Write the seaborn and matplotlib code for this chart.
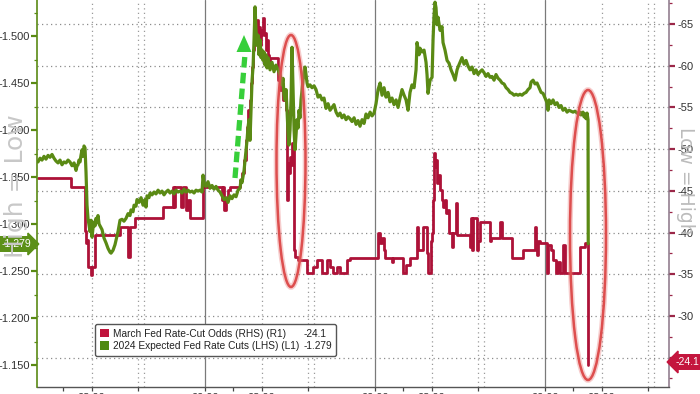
import matplotlib
matplotlib.use("Agg")
import matplotlib.pyplot as plt
import seaborn as sns
from matplotlib.patches import Patch, Ellipse, Polygon
from matplotlib.lines import Line2D
from matplotlib.ticker import FixedLocator, FormatStrFormatter

# ---------------- data ----------------
green_name = "2024 Expected Fed Rate Cuts (LHS) (L1)"
red_name = "March Fed Rate-Cut Odds (RHS) (R1)"

# hours since 00:00 of the first day
green_t = [
    0.42, 0.71, 0.99, 1.27, 1.55, 1.84, 2.12, 2.40, 2.68, 2.96,
    3.25, 3.53, 3.81, 4.09, 4.38, 4.66, 4.94, 5.22, 5.51, 5.79,
    5.93, 6.07, 6.21, 6.35, 6.49, 6.64, 6.78, 6.92, 7.06, 7.20,
    7.34, 7.48, 7.62, 7.76, 7.91, 8.05, 8.19, 8.33, 8.47, 8.61,
    8.75, 8.89, 9.04, 9.18, 9.46, 9.74, 10.02, 10.31, 10.59, 10.73,
    11.01, 11.29, 11.44, 11.72, 11.86, 12.00, 12.28, 12.56, 12.85, 13.13,
    13.41, 13.55, 13.84, 13.98, 14.26, 14.40, 14.68, 14.97, 15.25, 15.53,
    15.67, 15.81, 16.09, 16.24, 16.52, 16.80, 17.08, 17.37, 17.65, 17.93,
    18.21, 18.49, 18.78, 19.06, 19.34, 19.62, 19.91, 20.19, 20.47, 20.75,
    21.04, 21.32, 21.60, 21.88, 22.17, 22.45, 22.73, 23.01, 23.29, 23.58,
    23.72, 23.86, 24.14, 24.42, 24.71, 24.99, 25.27, 25.55, 25.84, 26.12,
    26.40, 26.68, 26.97, 27.25, 27.53, 27.81, 28.09, 28.38, 28.66, 28.94,
    29.08, 29.22, 29.51, 29.65, 29.79, 29.93, 30.07, 30.21, 30.35, 30.50,
    30.64, 30.78, 30.92, 31.06, 31.20, 31.34, 31.48, 31.62, 31.77, 31.91,
    32.05, 32.19, 32.33, 32.47, 32.61, 32.75, 32.89, 33.18, 33.46, 33.74,
    34.02, 34.31, 34.59, 34.73, 34.87, 35.01, 35.15, 35.30, 35.44, 35.58,
    35.72, 35.86, 36.00, 36.14, 36.28, 36.43, 36.57, 36.71, 36.85, 36.99,
    37.13, 37.27, 37.41, 37.55, 37.70, 37.84, 37.98, 38.12, 38.26, 38.40,
    38.54, 38.82, 39.11, 39.39, 39.67, 39.95, 40.24, 40.52, 40.80, 41.08,
    41.37, 41.65, 41.93, 42.21, 42.50, 42.78, 43.06, 43.34, 43.62, 43.91,
    44.19, 44.47, 44.75, 45.04, 45.32, 45.60, 45.88, 46.17, 46.45, 46.73,
    47.01, 47.30, 47.58, 47.86, 48.14, 48.43, 48.71, 48.99, 49.27, 49.55,
    49.84, 50.12, 50.40, 50.68, 50.97, 51.25, 51.53, 51.81, 52.10, 52.38,
    52.66, 52.94, 53.22, 53.51, 53.79, 53.93, 54.21, 54.35, 54.64, 54.92,
    55.20, 55.34, 55.48, 55.77, 56.05, 56.19, 56.33, 56.47, 56.61, 56.75,
    56.89, 57.18, 57.46, 57.60, 57.88, 58.17, 58.45, 58.73, 59.01, 59.30,
    59.58, 59.72, 60.00, 60.28, 60.57, 60.85, 61.13, 61.41, 61.70, 61.98,
    62.26, 62.54, 62.83, 63.11, 63.39, 63.67, 63.95, 64.24, 64.52, 64.80,
    65.08, 65.37, 65.65, 65.93, 66.21, 66.50, 66.78, 67.06, 67.34, 67.63,
    67.91, 68.19, 68.47, 68.75, 69.04, 69.32, 69.60, 69.88, 70.03, 70.31,
    70.59, 70.87, 71.15, 71.44, 71.72, 72.00, 72.28, 72.42, 72.57, 72.85,
    73.13, 73.41, 73.70, 73.98, 74.26, 74.54, 74.83, 75.11, 75.39, 75.67,
    75.95, 76.24, 76.52, 76.80, 76.94, 77.08, 77.36, 77.51, 77.65, 77.79,
    77.93, 78.07, 78.10,
]
green_v = [
    -1.366, -1.370, -1.368, -1.372, -1.369, -1.373, -1.371, -1.374, -1.370, -1.367,
    -1.365, -1.368, -1.363, -1.366, -1.365, -1.368, -1.366, -1.362, -1.365, -1.357,
    -1.362, -1.363, -1.368, -1.366, -1.373, -1.379, -1.372, -1.383, -1.381, -1.355,
    -1.320, -1.306, -1.299, -1.292, -1.304, -1.286, -1.296, -1.302, -1.298, -1.306,
    -1.302, -1.309, -1.300, -1.298, -1.294, -1.285, -1.280, -1.274, -1.270, -1.269,
    -1.272, -1.278, -1.283, -1.292, -1.298, -1.304, -1.305, -1.303, -1.306, -1.311,
    -1.309, -1.315, -1.313, -1.320, -1.319, -1.326, -1.323, -1.328, -1.320, -1.326,
    -1.318, -1.330, -1.328, -1.333, -1.331, -1.334, -1.332, -1.336, -1.333, -1.335,
    -1.331, -1.334, -1.336, -1.333, -1.335, -1.332, -1.336, -1.334, -1.335, -1.333,
    -1.337, -1.334, -1.336, -1.334, -1.335, -1.333, -1.336, -1.335, -1.336, -1.334,
    -1.352, -1.344, -1.340, -1.345, -1.338, -1.341, -1.337, -1.340, -1.336, -1.334,
    -1.330, -1.326, -1.328, -1.323, -1.330, -1.327, -1.331, -1.329, -1.336, -1.338,
    -1.347, -1.344, -1.357, -1.368, -1.379, -1.389, -1.403, -1.411, -1.389, -1.421,
    -1.453, -1.467, -1.496, -1.531, -1.506, -1.490, -1.501, -1.480, -1.496, -1.477,
    -1.485, -1.474, -1.483, -1.469, -1.480, -1.466, -1.477, -1.464, -1.472, -1.462,
    -1.469, -1.464, -1.459, -1.453, -1.448, -1.455, -1.437, -1.432, -1.443, -1.421,
    -1.397, -1.384, -1.400, -1.432, -1.488, -1.443, -1.400, -1.379, -1.395, -1.411,
    -1.402, -1.421, -1.413, -1.432, -1.443, -1.453, -1.462, -1.467, -1.459, -1.450,
    -1.446, -1.448, -1.445, -1.447, -1.443, -1.435, -1.437, -1.432, -1.434, -1.423,
    -1.428, -1.421, -1.424, -1.427, -1.419, -1.415, -1.418, -1.413, -1.416, -1.411,
    -1.414, -1.412, -1.409, -1.413, -1.406, -1.410, -1.404, -1.411, -1.407, -1.417,
    -1.413, -1.419, -1.415, -1.418, -1.428, -1.443, -1.450, -1.437, -1.445, -1.435,
    -1.440, -1.430, -1.434, -1.427, -1.432, -1.424, -1.434, -1.443, -1.437, -1.432,
    -1.421, -1.440, -1.448, -1.445, -1.464, -1.493, -1.480, -1.487, -1.483, -1.485,
    -1.472, -1.459, -1.439, -1.453, -1.456, -1.496, -1.522, -1.536, -1.530, -1.512,
    -1.520, -1.506, -1.510, -1.493, -1.485, -1.474, -1.471, -1.464, -1.459, -1.453,
    -1.464, -1.467, -1.472, -1.477, -1.470, -1.474, -1.468, -1.464, -1.467, -1.460,
    -1.464, -1.459, -1.462, -1.464, -1.461, -1.457, -1.460, -1.456, -1.457, -1.453,
    -1.459, -1.455, -1.453, -1.450, -1.449, -1.445, -1.443, -1.440, -1.439, -1.437,
    -1.438, -1.437, -1.438, -1.437, -1.439, -1.440, -1.443, -1.445, -1.451, -1.453,
    -1.449, -1.450, -1.445, -1.440, -1.439, -1.434, -1.429, -1.421, -1.432, -1.428,
    -1.432, -1.427, -1.429, -1.424, -1.426, -1.421, -1.423, -1.419, -1.421, -1.420,
    -1.419, -1.420, -1.418, -1.417, -1.419, -1.416, -1.419, -1.414, -1.417, -1.412,
    -1.418, -1.411, -1.279,
]

red_t = [
    0.42, 5.08, 7.06, 7.20, 7.34, 7.48, 7.91, 8.05, 8.47, 12.00,
    13.13, 13.41, 14.12, 18.07, 19.48, 19.62, 19.77, 20.61, 20.89, 21.32,
    21.60, 21.88, 23.72, 26.40, 26.54, 26.68, 26.97, 27.25, 27.53, 28.94,
    29.22, 29.51, 29.79, 29.93, 30.07, 30.21, 30.35, 30.50, 30.64, 30.78,
    30.92, 31.06, 31.20, 31.34, 31.48, 31.62, 31.77, 31.91, 32.05, 32.19,
    32.33, 32.47, 32.61, 32.75, 32.89, 33.04, 33.18, 34.31, 34.59, 34.87,
    35.01, 35.30, 35.44, 35.58, 35.72, 35.86, 36.00, 36.14, 36.28, 36.57,
    36.71, 37.13, 38.40, 39.25, 39.81, 40.52, 41.23, 41.65, 42.07, 42.64,
    43.06, 44.05, 44.47, 48.43, 48.71, 48.99, 49.27, 49.41, 50.40, 50.54,
    51.96, 52.38, 52.94, 53.93, 54.07, 54.78, 55.34, 55.48, 55.91, 56.05,
    56.19, 56.33, 56.47, 56.61, 56.75, 56.89, 57.18, 57.46, 57.60, 57.88,
    58.02, 58.31, 58.45, 58.87, 59.01, 59.44, 59.58, 61.41, 61.55, 61.70,
    61.84, 62.40, 62.54, 62.83, 64.24, 64.38, 65.65, 65.93, 67.34, 68.90,
    70.59, 70.73, 70.87, 71.01, 71.30, 72.28, 72.42, 72.85, 73.13, 73.56,
    73.84, 74.12, 74.54, 74.83, 76.94, 77.65, 78.10,
]
red_v = [
    -46.5, -45.5, -40.2, -38.7, -39.1, -35.9, -34.9, -35.9, -39.7, -40.7,
    -37.1, -40.7, -41.7, -43.1, -45.5, -43.1, -45.5, -43.1, -45.5, -42.7,
    -43.9, -41.7, -45.5, -43.9, -45.5, -42.7, -43.9, -45.1, -45.5, -46.3,
    -47.1, -48.7, -51.1, -52.6, -54.7, -53.5, -55.9, -57.9, -59.8, -61.9,
    -63.1, -64.6, -63.9, -65.5, -63.1, -64.6, -62.5, -63.7, -64.3, -65.7,
    -63.7, -63.9, -61.9, -63.1, -61.3, -59.8, -60.9, -58.3, -57.1, -57.9,
    -55.9, -56.7, -54.7, -43.9, -48.3, -47.1, -49.1, -48.1, -50.7, -37.9,
    -37.1, -36.7, -35.1, -35.9, -36.7, -35.1, -36.7, -35.9, -35.1, -35.9,
    -35.1, -36.7, -36.9, -39.9, -38.7, -39.3, -37.9, -36.9, -36.5, -36.9,
    -35.1, -36.1, -36.9, -40.7, -37.9, -40.7, -37.5, -35.1, -39.0, -39.9,
    -43.9, -49.5, -47.9, -48.7, -45.9, -46.9, -45.1, -43.9, -43.1, -43.9,
    -42.3, -42.7, -39.9, -38.3, -39.9, -43.5, -39.7, -38.3, -41.7, -37.9,
    -41.7, -37.9, -39.0, -41.3, -39.0, -39.3, -41.3, -39.3, -36.9, -37.9,
    -40.7, -38.5, -37.3, -39.0, -38.7, -35.1, -38.5, -37.9, -36.7, -35.1,
    -36.5, -35.1, -38.5, -35.1, -38.3, -38.7, -24.1,
]

x_tick_pos = [8, 24, 32, 48, 56, 72, 80]
x_tick_labels = ["08:00", "00:00", "08:00", "00:00", "08:00", "00:00", "08:00"]
x_minor_pos = [4, 14.5, 28, 38.5, 52, 62.5, 76, 86.5]
day_breaks = [24, 48, 72]
session_marks = [8, 14.5, 15.4, 32, 38.5, 39.4, 56, 62.5, 63.4, 80, 86.5, 87.4]
left_ticks = [-1.50, -1.45, -1.40, -1.35, -1.30, -1.25, -1.20, -1.15]
left_minor = [-1.525, -1.475, -1.425, -1.375, -1.325, -1.275, -1.225, -1.175, -1.125]
right_ticks = [-65, -60, -55, -50, -45, -40, -35, -30, -25]
right_minor = [-67.5, -62.5, -57.5, -52.5, -47.5, -42.5, -37.5, -32.5, -27.5, -22.5]

# ---------------- style ----------------
RED = "#ad1238"
GREEN = "#5a8a14"
RED_TAG = "#c4163e"
GREEN_TAG = "#5c9018"

sns.set_theme(style="white")
plt.rcParams["font.family"] = ["Liberation Sans", "DejaVu Sans"]
plt.rcParams["axes.unicode_minus"] = False

W, H = 700, 394
fig = plt.figure(figsize=(7.0, 3.94), dpi=100)
fig.patch.set_facecolor("white")
AX_L, AX_R, AX_T, AX_B = 37, 669, 0, 387
ax_r = fig.add_axes([AX_L / W, 1 - AX_B / H, (AX_R - AX_L) / W, (AX_B - AX_T) / H])
ax_l = ax_r.twinx()

# grid / session lines on primary (red) axis
ax_r.set_ylim(-21.48, -67.88)
ax_r.yaxis.set_major_locator(FixedLocator(right_ticks))
ax_r.yaxis.set_minor_locator(FixedLocator(right_minor))
ax_r.yaxis.set_major_formatter(FormatStrFormatter("%d"))
ax_r.yaxis.grid(True, which="major", linestyle=(0, (1, 2.6)), color="#8c8c8c", lw=0.9)
ax_r.xaxis.grid(False)
for d in day_breaks:
    ax_r.axvline(d, color="#7a7a7a", lw=0.9, zorder=0.5)
for s in session_marks:
    ax_r.axvline(s, color="#9a9a9a", lw=0.9, linestyle=(0, (1, 2.6)), zorder=0.5)

sns.lineplot(x=red_t, y=red_v, ax=ax_r, color=RED, lw=2.0, drawstyle="steps-post",
             estimator=None, sort=False, zorder=3)
sns.lineplot(x=green_t, y=green_v, ax=ax_l, color=GREEN, lw=2.3,
             estimator=None, sort=False, zorder=3)

ax_l.set_ylim(-1.1266, -1.5383)
ax_l.yaxis.set_major_locator(FixedLocator(left_ticks))
ax_l.yaxis.set_minor_locator(FixedLocator(left_minor))
ax_l.yaxis.set_major_formatter(FormatStrFormatter("%.3f"))

ax_r.set_xlim(0.28, 89.5)
ax_r.set_xticks(x_tick_pos)
ax_r.set_xticklabels(x_tick_labels)
ax_r.set_xticks(x_minor_pos, minor=True)

for a in (ax_r, ax_l):
    a.set_xlabel("")
    a.set_ylabel("")

ax_r.yaxis.tick_right()
ax_l.yaxis.tick_left()

ax_r.tick_params(axis="y", which="major", right=True, left=False, labelright=True, labelleft=False,
                 direction="out", length=4, width=1.6, color="#9b2748", labelsize=8,
                 labelcolor="#333333", pad=2)
ax_r.tick_params(axis="y", which="minor", right=True, left=False, direction="out",
                 length=2.5, width=0.9, color="#9b2748")
ax_l.tick_params(axis="y", which="major", left=True, right=False, labelleft=True, labelright=False,
                 direction="out", length=4, width=1.6, color=GREEN, labelsize=8,
                 labelcolor="#333333", pad=1)
ax_l.tick_params(axis="y", which="minor", left=True, right=False, direction="out",
                 length=2.5, width=0.9, color=GREEN)
ax_r.tick_params(axis="x", which="major", bottom=True, direction="out", length=3, width=0.9,
                 color="#444444", labelsize=8, labelcolor="#333333", pad=1.5)
ax_r.tick_params(axis="x", which="minor", bottom=True, direction="out", length=3, width=0.9,
                 color="#444444")

for sp in ("top", "left"):
    ax_r.spines[sp].set_visible(False)
ax_r.spines["right"].set_color("#8a7486")
ax_r.spines["right"].set_linewidth(1.1)
ax_r.spines["bottom"].set_color("#555555")
ax_r.spines["bottom"].set_linewidth(1.0)
for sp in ("top", "right", "bottom"):
    ax_l.spines[sp].set_visible(False)
ax_l.spines["left"].set_color(GREEN)
ax_l.spines["left"].set_linewidth(1.2)

# legend
handles = [Patch(fc="#c0143c", ec="none"), Patch(fc="#4f8a10", ec="none"),
           Patch(alpha=0), Patch(alpha=0)]
labels = [red_name, green_name, f"{red_v[-1]:.1f}", f"{green_v[-1]:.3f}"]
px2ax = lambda px, py: ((px - AX_L) / (AX_R - AX_L), (AX_B - py) / (AX_B - AX_T))
leg = ax_l.legend(handles, labels, ncol=2, loc="upper left",
                  bbox_to_anchor=px2ax(95, 324), bbox_transform=ax_l.transAxes,
                  borderaxespad=0, fontsize=7.3, handlelength=0.9, handleheight=0.9,
                  handletextpad=0.4, columnspacing=-0.9, labelspacing=0.25,
                  borderpad=0.45, frameon=True, fancybox=True, framealpha=1)
leg.get_frame().set_edgecolor("#555555")
leg.get_frame().set_linewidth(1.0)
for t in leg.get_texts():
    t.set_color("#222222")

# annotations: ellipses and arrow
for (cx, cy, w, h) in [(291, 161, 29, 252), (588, 235, 36, 290)]:
    c = px2ax(cx, cy)
    ww = w / (AX_R - AX_L)
    hh = h / (AX_B - AX_T)
    ax_l.add_patch(Ellipse(c, ww, hh, transform=ax_l.transAxes, fill=False,
                           ec="#e87070", lw=4, alpha=0.35, clip_on=False, zorder=6))
    ax_l.add_patch(Ellipse(c, ww, hh, transform=ax_l.transAxes, fill=False,
                           ec="#dd4e4e", lw=1.8, clip_on=False, zorder=6))

s0 = px2ax(235, 178)
s1 = px2ax(245, 54)
ax_l.add_line(Line2D([s0[0], s1[0]], [s0[1], s1[1]], transform=ax_l.transAxes,
                     color="#37cf3a", lw=3.8, linestyle=(0, (2.0, 1.0)),
                     solid_capstyle="butt", dash_capstyle="butt", zorder=7))
ax_l.add_patch(Polygon([px2ax(244, 35), px2ax(236.5, 52), px2ax(251.5, 52)], closed=True,
                       transform=ax_l.transAxes, fc="#37cf3a", ec="none", zorder=7))

# value tags
fig.text(16 / W, 1 - 244 / H, f"{green_v[-1]:.3f}", ha="center", va="center", color="white",
         fontsize=7.5, bbox=dict(boxstyle="rarrow,pad=0.22", fc=GREEN_TAG, ec=GREEN_TAG))
fig.text(687 / W, 1 - 362 / H, f"{red_v[-1]:.1f}", ha="center", va="center", color="white",
         fontsize=7.5, bbox=dict(boxstyle="larrow,pad=0.22", fc=RED_TAG, ec=RED_TAG))

# side captions
fig.text(16 / W, 1 - 186 / H, "High = Low", rotation=90, ha="center", va="center",
         fontsize=18, color="#c8c8c8", family=["DejaVu Sans"])
fig.text(686 / W, 1 - 181 / H, "Low = High", rotation=270, ha="center", va="center",
         fontsize=13.5, color="#bcbcbc", family=["DejaVu Sans"])

fig.savefig("out.png", dpi=100, facecolor="white")
